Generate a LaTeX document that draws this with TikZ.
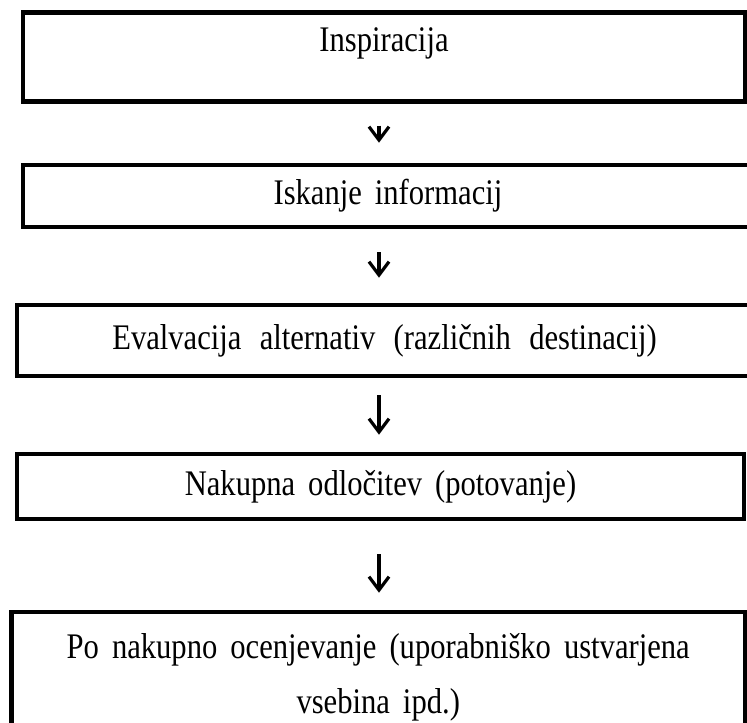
\documentclass[tikz,border=0pt]{standalone}
\usepackage{fontspec}
\setmainfont[FakeStretch=0.85,WordSpace=1.7]{Liberation Serif}
\usetikzlibrary{arrows.meta,positioning}

\begin{document}
\begin{tikzpicture}[x=0.75pt,y=-0.75pt,
  stage/.style={draw,line width=3.5pt,rectangle,inner sep=0pt,align=center,
    font=\fontsize{27}{41}\selectfont},
  flow/.style={-{Straight Barb[length=10pt,width=15pt]},line width=2.4pt}]
\useasboundingbox (0,0) rectangle (747,722);
\clip (0,0) rectangle (747,722);
\coordinate (axis) at (379,0);
% stages
\node[stage,minimum width=541.5pt,minimum height=66.4pt,text height=19pt,text depth=27pt] (insp) at (384,57) {Inspiracija};
\node[stage,minimum width=547.5pt,minimum height=46.5pt] (iskanje) at (388,196) {Iskanje informacij};
\node[stage,minimum width=551.25pt,minimum height=53.25pt] (eval) at (384.5,340.5) {Evalvacija\hspace{4pt} alternativ\hspace{4pt} (različnih\hspace{4pt} destinacij)};
\node[stage,minimum width=545.25pt,minimum height=48.75pt] (nakup) at (380.5,486.5) {Nakupna odločitev (potovanje)};
\node[stage,minimum width=550.1pt,minimum height=97.5pt] (ocena) at (378.25,677) {Po nakupno ocenjevanje (uporabniško ustvarjena\\vsebina ipd.)};
% arrows
\draw[flow,shorten <=16.5pt,shorten >=15pt] (insp.south -| axis) -- (iskanje.north -| axis);
\draw[flow,shorten <=17.25pt,shorten >=18.75pt] (iskanje.south -| axis) -- (eval.north -| axis);
\draw[flow,shorten <=12.75pt,shorten >=12.75pt] (eval.south -| axis) -- (nakup.north -| axis);
\draw[flow,shorten <=24.75pt,shorten >=12.75pt] (nakup.south -| axis) -- (ocena.north -| axis);
\end{tikzpicture}
\end{document}
